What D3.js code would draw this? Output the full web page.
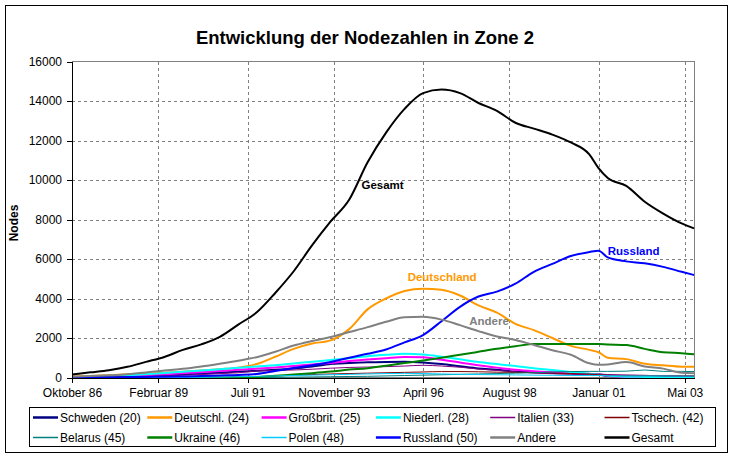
<!DOCTYPE html>
<html><head><meta charset="utf-8">
<script src="https://cdn.jsdelivr.net/npm/d3@7"></script>
<style>
body{margin:0;background:#fff}
text{font-family:Arial,"Liberation Sans",sans-serif}
</style>
</head><body>
<svg id="c" width="734" height="458"></svg>
<script>
// ---------- DATA ----------
const dates = ["1986-10","1987-04","1987-10","1988-04","1988-10","1989-04","1989-10","1990-04","1990-10","1991-04",
  "1991-10","1992-04","1992-10","1993-04","1993-10","1994-04","1994-10","1995-04","1995-10","1996-04",
  "1996-10","1997-04","1997-10","1998-04","1998-10","1999-04","1999-10","2000-04","2000-10","2001-01",
  "2001-04","2001-10","2002-04","2002-10","2003-04","2003-08"];

const tickDates  = ["1986-10","1989-02","1991-07","1993-11","1996-04","1998-08","2001-01","2003-05"];
const tickLabels = ["Oktober 86","Februar 89","Juli 91","November 93","April 96","August 98","Januar 01","Mai 03"];
const yTicks = [0,2000,4000,6000,8000,10000,12000,14000,16000];

const schweden  = [10,20,40,60,90,120,160,200,250,300, 340,390,460,560,680,730,770,790,800,760, 680,570,460,390,300,270,230,200,170,150, 80,60,50,50,40,40];
const deutschl  = [50,80,120,160,200,240,290,350,420,500, 680,1050,1450,1720,1880,2450,3450,4000,4380,4500, 4440,4150,3650,3280,2720,2400,2000,1600,1400,1280, 1000,930,700,620,550,540];
const grossbrit = [10,20,40,70,110,170,220,270,330,390, 450,510,580,660,740,830,910,980,1040,1020, 900,760,620,500,390,320,270,230,190,160, 90,30,10,5,5,5];
const niederl   = [20,40,80,120,170,230,290,350,420,490, 560,620,710,800,880,980,1080,1150,1200,1160, 1050,920,780,680,580,470,380,280,190,150, 100,40,30,20,20,20];
const italien   = [5,10,20,40,60,80,110,150,200,240, 330,360,380,420,470,510,530,550,580,620, 580,520,430,360,290,230,190,170,170,170, 150,130,110,80,60,50];
const tschech   = [0,0,0,0,0,0,0,5,10,20, 40,80,120,150,180,200,220,240,260,280, 300,300,290,270,260,250,230,200,170,140, 110,90,90,85,85,85];
const belarus   = [0,0,0,0,0,0,0,0,0,0, 5,10,20,30,40,50,60,80,100,120, 140,160,180,200,220,240,280,300,310,310, 310,320,380,310,310,300];
const ukraine   = [0,0,0,0,0,0,0,0,0,5, 20,90,150,220,300,400,470,600,730,860, 1000,1150,1300,1450,1580,1700,1700,1700,1700,1690, 1670,1640,1450,1280,1230,1180];
const polen     = [0,0,0,0,0,0,0,10,20,40, 60,80,100,120,140,160,180,200,210,200, 180,160,150,140,130,120,110,100,100,100, 90,80,80,80,70,70];
const russland  = [5,10,15,20,30,40,50,70,100,130, 180,330,480,620,780,1000,1200,1420,1780,2150, 2850,3580,4100,4350,4750,5350,5750,6150,6350,6420, 6080,5880,5780,5600,5350,5190];
const andere    = [40,70,110,160,250,360,440,560,700,850, 1030,1300,1620,1850,2050,2300,2550,2820,3050,3070, 2930,2650,2350,2080,1900,1650,1380,1150,720,640, 660,780,560,450,240,220];
const gesamt    = [150,260,370,540,790,1040,1400,1680,2060,2680, 3300,4280,5380,6700,7900,9000,10900,12400,13600,14400, 14580,14400,13900,13500,12900,12600,12300,11900,11300,10600, 10100,9700,8900,8300,7800,7550];

const seriesNames = ["Schweden (20)","Deutschl. (24)","Großbrit. (25)","Niederl. (28)","Italien (33)","Tschech. (42)",
                     "Belarus (45)","Ukraine (46)","Polen (48)","Russland (50)","Andere","Gesamt"];
const seriesValues = [schweden,deutschl,grossbrit,niederl,italien,tschech,belarus,ukraine,polen,russland,andere,gesamt];

// annotations (data space)
const annoText  = ["Gesamt","Russland","Deutschland","Andere"];
const annoDate  = ["1994-08","2001-04","1995-11","1997-07"];
const annoValue = [9750,6400,5100,2880];

// ---------- STYLE ----------
const colors = ["#000080","#FF9900","#FF00FF","#00FFFF","#800080","#800000","#008080","#008000","#00CCFF","#0000FF","#808080","#000000"];
const widths = [2,2,2,2,1,1,1,2,1,2,2,2];
const annoColors = ["#000000","#0000FF","#FF9900","#808080"];

// ---------- CHART ----------
const svg = d3.select("#c");
const mi = s => { const [yy,mm] = s.split("-").map(Number); return (yy-1986)*12 + (mm-10); };

const x = d3.scaleLinear().domain([0,202]).range([72,694]);
const y = d3.scaleLinear().domain([0,16000]).range([377.5,61.5]);

svg.append("rect").attr("x",5.5).attr("y",5.5).attr("width",722).attr("height",447)
  .attr("fill","#fff").attr("stroke","#000").attr("stroke-width",1);

svg.append("text").attr("x",365).attr("y",44).attr("text-anchor","middle")
  .attr("font-size",18.5).attr("font-weight","bold").text("Entwicklung der Nodezahlen in Zone 2");

// plot border
svg.append("rect").attr("x",72).attr("y",61.5).attr("width",622).attr("height",316)
  .attr("fill","none").attr("stroke","#808080").attr("shape-rendering","crispEdges");

// gridlines
const g = svg.append("g").attr("stroke","#808080").attr("stroke-dasharray","3,3").attr("shape-rendering","crispEdges");
yTicks.filter(v => v>0 && v<16000).forEach(v => {
  g.append("line").attr("x1",72).attr("x2",694).attr("y1",Math.round(y(v))+0.5).attr("y2",Math.round(y(v))+0.5);
});
tickDates.slice(1).forEach(d => {
  const px = Math.round(x(mi(d)))+0.5;
  g.append("line").attr("x1",px).attr("x2",px).attr("y1",61.5).attr("y2",377.5);
});

// lines
const line = d3.line().x((d,i)=>x(mi(dates[i]))).y(d=>y(d)).curve(d3.curveMonotoneX);
seriesValues.forEach((vals,k) => {
  svg.append("path").datum(vals).attr("d",line).attr("fill","none")
    .attr("stroke",colors[k]).attr("stroke-width",widths[k]).attr("stroke-linejoin","round");
});

// axes
const ax = svg.append("g").attr("transform","translate(72,0)")
  .call(d3.axisLeft(y).tickValues(yTicks).tickSize(5).tickSizeOuter(0).tickPadding(5).tickFormat(d3.format("d")));
const bx = svg.append("g").attr("transform","translate(0,377.5)")
  .call(d3.axisBottom(x).tickValues(tickDates.map(mi)).tickSize(5).tickSizeOuter(0).tickPadding(6)
    .tickFormat((d,i)=>tickLabels[i]));
[ax,bx].forEach(a => {
  a.selectAll("path,line").attr("stroke","#000").attr("shape-rendering","crispEdges");
  a.selectAll("text").attr("font-size",12).attr("fill","#000").attr("font-family","Arial, 'Liberation Sans', sans-serif");
});

svg.append("text").attr("transform","translate(18,223) rotate(-90)").attr("text-anchor","middle")
  .attr("font-size",12).attr("font-weight","bold").text("Nodes");

// annotations
annoText.forEach((t,i) => {
  svg.append("text").attr("x",x(mi(annoDate[i]))).attr("y",y(annoValue[i])).attr("dy","0.35em")
    .attr("font-size",11.5).attr("font-weight","bold").attr("fill",annoColors[i]).text(t);
});

// legend
svg.append("rect").attr("x",29.5).attr("y",407.5).attr("width",686).attr("height",39)
  .attr("fill","#fff").attr("stroke","#000").attr("shape-rendering","crispEdges");
seriesNames.forEach((n,k) => {
  const col = k % 6, row = Math.floor(k/6);
  const lx = 33 + col*114.3, ly = 417.5 + row*20;
  svg.append("line").attr("x1",lx).attr("x2",lx+25).attr("y1",ly).attr("y2",ly)
    .attr("stroke",colors[k]).attr("stroke-width",widths[k]===2?2.5:1.5);
  svg.append("text").attr("x",lx+27).attr("y",ly).attr("dy","0.35em").attr("font-size",12).text(n);
});
</script>
</body></html>
